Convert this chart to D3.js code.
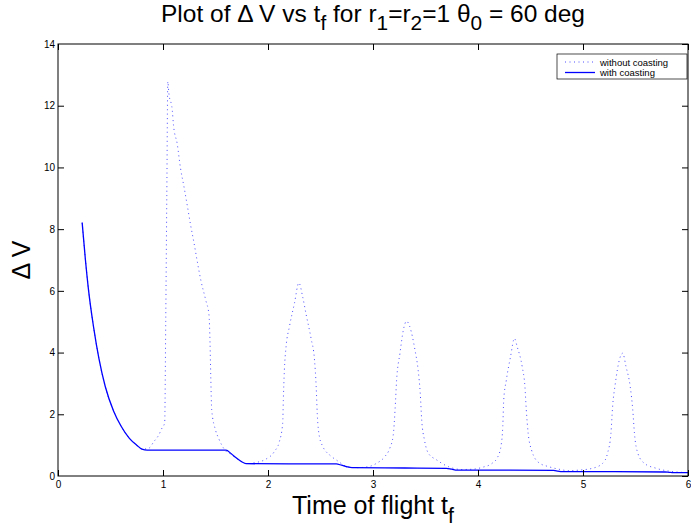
<!DOCTYPE html>
<html>
<head>
<meta charset="utf-8">
<script src="https://cdn.jsdelivr.net/npm/d3@7"></script>
<style>
body { margin: 0; background: #fff; }
text { font-family: "Liberation Sans", Arial, Helvetica, sans-serif; }
</style>
</head>
<body>
<svg id="viz" width="691" height="529"></svg>
<script>
// with coasting (solid)
var coastT = [0.23, 0.26, 0.29, 0.34, 0.39, 0.45, 0.53, 0.60, 0.68, 0.75, 0.80, 0.85, 1.20, 1.60, 1.65, 1.70, 1.75, 1.79, 2.20, 2.65, 2.70, 2.75, 2.80, 3.30, 3.70, 3.75, 3.80, 4.30, 4.72, 4.76, 4.80, 5.30, 5.78, 5.82, 5.86, 6.0]
var coastV = [8.21, 7.05, 6.05, 4.80, 3.80, 2.90, 2.10, 1.62, 1.22, 1.00, 0.87, 0.84, 0.84, 0.84, 0.72, 0.58, 0.46, 0.40, 0.39, 0.39, 0.35, 0.30, 0.27, 0.26, 0.25, 0.22, 0.19, 0.19, 0.18, 0.16, 0.14, 0.14, 0.13, 0.12, 0.11, 0.11]

// without coasting (dotted)
var noCoastT = [0.23, 0.26, 0.29, 0.34, 0.39, 0.45, 0.53, 0.60, 0.68, 0.75, 0.80, 0.865, 0.912, 0.96, 0.99, 1.016, 1.026, 1.036, 1.046,
    1.055, 1.088, 1.10, 1.136, 1.167, 1.20, 1.232, 1.263, 1.295, 1.327, 1.36, 1.407, 1.438, 1.448, 1.455, 1.464, 1.50, 1.53, 1.56, 1.60, 1.65, 1.70, 1.75, 1.80,
    1.87, 1.965, 2.06, 2.108, 2.14, 2.146, 2.156, 2.172, 2.204, 2.252, 2.294, 2.33, 2.364, 2.41, 2.443, 2.459, 2.469, 2.49, 2.523, 2.587, 2.65, 2.76, 2.85,
    2.954, 3.033, 3.113, 3.16, 3.193, 3.21, 3.225, 3.257, 3.289, 3.32, 3.35, 3.40, 3.43, 3.45, 3.464, 3.49, 3.527, 3.607, 3.72, 3.85,
    3.95, 4.04, 4.134, 4.19, 4.223, 4.236, 4.245, 4.27, 4.31, 4.347, 4.373, 4.421, 4.447, 4.46, 4.478, 4.51, 4.58, 4.676, 4.77, 4.87,
    4.96, 5.09, 5.187, 5.234, 5.266, 5.282, 5.308, 5.346, 5.378, 5.41, 5.45, 5.474, 5.49, 5.522, 5.585, 5.697, 5.86, 6.0]
var noCoastV = [8.21, 7.05, 6.05, 4.80, 3.80, 2.90, 2.10, 1.62, 1.22, 1.00, 0.87, 0.90, 1.11, 1.33, 1.55, 1.72, 5.0, 9.0, 12.78,
    12.43, 11.86, 11.37, 10.75, 9.97, 9.37, 8.75, 8.13, 7.56, 6.94, 6.35, 5.70, 5.22, 4.30, 3.22, 2.14, 1.49, 1.22, 1.0, 0.80, 0.70, 0.57, 0.46, 0.40,
    0.43, 0.52, 0.79, 1.11, 1.71, 2.46, 3.43, 4.19, 4.84, 5.60, 6.26, 5.81, 5.22, 4.46, 3.76, 2.89, 2.03, 1.27, 0.95, 0.68, 0.52, 0.30, 0.27,
    0.30, 0.41, 0.63, 0.90, 1.33, 2.14, 3.11, 3.98, 4.73, 5.02, 4.84, 4.08, 3.43, 2.68, 1.81, 1.17, 0.74, 0.52, 0.30, 0.21,
    0.22, 0.28, 0.41, 0.63, 1.06, 1.60, 2.46, 3.11, 3.87, 4.46, 4.19, 3.54, 2.89, 2.14, 1.38, 0.84, 0.43, 0.30, 0.22, 0.17,
    0.19, 0.25, 0.41, 0.74, 1.38, 2.25, 3.00, 3.76, 3.98, 3.54, 2.89, 2.14, 1.38, 0.74, 0.41, 0.25, 0.14, 0.11]

var xTicks = [0, 1, 2, 3, 4, 5, 6]
var yTicks = [0, 2, 4, 6, 8, 10, 12, 14]
var seriesNames = ["without coasting", "with coasting"]

let pLeft = 58, pRight = 688, pTop = 44, pBottom = 476
let tickLen = 6
let viz = d3.select("#viz")

let x = d3.scaleLinear().domain([0, 6]).range([pLeft, pRight])
let y = d3.scaleLinear().domain([0, 14]).range([pBottom, pTop])

// curves, clipped to the axes box
viz.append("clipPath").attr("id", "clip")
    .append("rect").attr("x", pLeft).attr("y", pTop).attr("width", pRight - pLeft).attr("height", pBottom - pTop)

let line = d3.line().x(d => x(d[0])).y(d => y(d[1])).curve(d3.curveMonotoneX)

let gLines = viz.append("g").attr("clip-path", "url(#clip)")
gLines.append("path")
    .datum(d3.zip(noCoastT, noCoastV))
    .attr("d", line)
    .attr("fill", "none")
    .attr("stroke", "#3a3aff")
    .attr("stroke-width", 0.9)
    .attr("stroke-dasharray", "1 3.5")
gLines.append("path")
    .datum(d3.zip(coastT, coastV))
    .attr("d", line)
    .attr("fill", "none")
    .attr("stroke", "#0000ff")
    .attr("stroke-width", 1.3)

// axes box with inward ticks on all four sides
let axisStyle = g => {
    g.select(".domain").remove()
    g.selectAll("text").attr("font-size", 10).attr("fill", "#000")
    g.selectAll("line").attr("stroke", "#000")
}
viz.append("g").attr("transform", `translate(0,${pBottom})`)
    .call(d3.axisBottom(x).tickValues(xTicks).tickFormat(d3.format("d")).tickSizeInner(-tickLen).tickPadding(5))
    .call(axisStyle)
viz.append("g").attr("transform", `translate(0,${pTop})`)
    .call(d3.axisTop(x).tickValues(xTicks).tickFormat("").tickSizeInner(-tickLen))
    .call(axisStyle)
viz.append("g").attr("transform", `translate(${pLeft},0)`)
    .call(d3.axisLeft(y).tickValues(yTicks).tickFormat(d3.format("d")).tickSizeInner(-tickLen).tickPadding(3))
    .call(axisStyle)
    .call(g => g.selectAll("line").filter(d => d == 0 || d == 14).remove())
viz.append("g").attr("transform", `translate(${pRight},0)`)
    .call(d3.axisRight(y).tickValues(yTicks).tickFormat("").tickSizeInner(-tickLen))
    .call(axisStyle)

viz.append("rect")
    .attr("x", pLeft).attr("y", pTop)
    .attr("width", pRight - pLeft).attr("height", pBottom - pTop)
    .attr("fill", "none").attr("stroke", "#000").attr("stroke-width", 1)

// text with subscripts: parts are [text, isSub]
function richText(sel, parts) {
    parts.forEach((p, i) => {
        let after = i > 0 && !p[1] && parts[i - 1][1]
        sel.append("tspan")
            .attr("font-size", p[1] ? "0.85em" : null)
            .attr("dy", p[1] ? "0.4em" : (after ? "-0.34em" : null))
            .text(p[0])
    })
}

let title = viz.append("text")
    .attr("x", (pLeft + pRight) / 2).attr("y", 22)
    .attr("text-anchor", "middle").attr("font-size", 24.5)
richText(title, [["Plot of \u0394 V vs t", 0], ["f", 1], [" for r", 0], ["1", 1], ["=r", 0], ["2", 1], ["=1 \u03b8", 0], ["0", 1], [" = 60 deg", 0]])

let xLabel = viz.append("text")
    .attr("x", (pLeft + pRight) / 2).attr("y", 514)
    .attr("text-anchor", "middle").attr("font-size", 25)
richText(xLabel, [["Time of flight t", 0], ["f", 1]])

viz.append("text")
    .attr("transform", `translate(30,${(pTop + pBottom) / 2}) rotate(-90)`)
    .attr("text-anchor", "middle").attr("font-size", 25)
    .text("\u0394 V")

// legend
let lg = viz.append("g").attr("transform", "translate(557,54)")
lg.append("rect").attr("width", 130).attr("height", 25)
    .attr("fill", "#fff").attr("stroke", "#000").attr("stroke-width", 0.7)
lg.selectAll("g.item").data(seriesNames).enter().append("g")
    .attr("class", "item")
    .attr("transform", (d, i) => `translate(0,${8 + i * 10.5})`)
    .each(function (d, i) {
        let g = d3.select(this)
        g.append("line").attr("x1", 8).attr("x2", 38).attr("y1", 0).attr("y2", 0)
            .attr("stroke", i == 0 ? "#3a3aff" : "#0000ff")
            .attr("stroke-width", i == 0 ? 0.9 : 1.3)
            .attr("stroke-dasharray", i == 0 ? "1 3.5" : null)
        g.append("text").attr("x", 43).attr("y", 3.5).attr("font-size", 9.5).text(d)
    })
</script>
</body>
</html>
